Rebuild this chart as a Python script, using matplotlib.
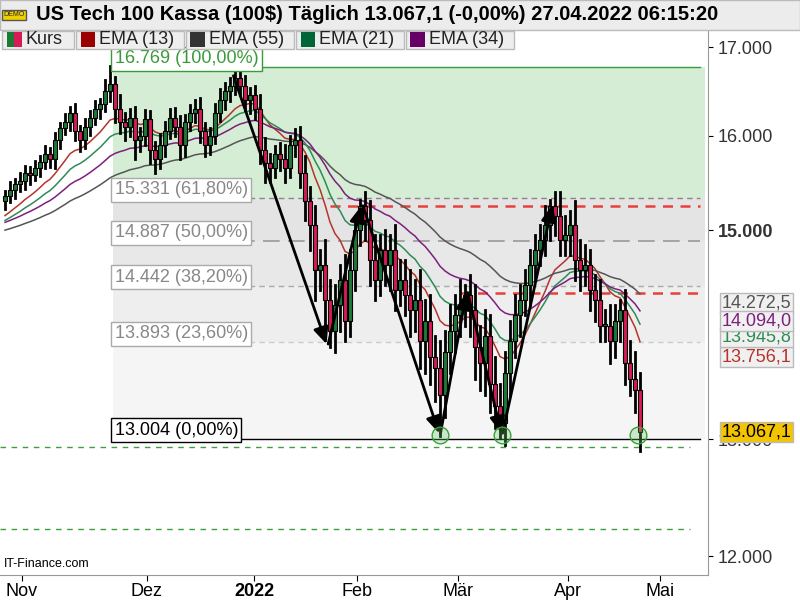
import matplotlib.pyplot as plt
import matplotlib.patches as mpatches
import numpy as np

plt.rcParams['font.family'] = ['Liberation Sans', 'DejaVu Sans']

# daily closes (late Oct 2021 .. 27 Apr 2022)
closes = [15350, 15420, 15480, 15510, 15600, 15580, 15650, 15720, 15800, 15750,
          15950, 16080, 16150, 16250, 16050, 15950, 16100, 16200, 16300, 16350,
          16500, 16580, 16300, 16150, 16100, 16200, 15950, 16000, 16180, 15850,
          15750, 15900, 16050, 16200, 16100, 15900, 16150, 16250, 16300, 16050,
          15900, 16000, 16250, 16400, 16500, 16550, 16650, 16550, 16400, 16450,
          16300, 15850, 15700, 15650, 15800, 15750, 15650, 15900, 15950, 15600,
          15300, 15050, 14600, 14650, 14300, 14000, 14250, 14500, 14100, 14600,
          15000, 15250, 15100, 14700, 14500, 14800, 14650, 14800, 14400, 14500,
          14350, 14200, 14300, 13900, 14100, 13750, 13650, 13400, 13800, 14000,
          14150, 14250, 14350, 14200, 13850, 13700, 13950, 13500, 13300, 13150,
          13600, 13900, 14150, 14300, 14450, 14650, 14800, 14900, 15050, 15250,
          15150, 14900, 14950, 15050, 14700, 14600, 14650, 14400, 14300, 14050,
          14050, 13900, 14100, 14200, 13700, 13550, 13450, 13067]
first_open = 15300
upper_wick = [60, 80, 50, 90, 70, 60, 80, 60, 90, 70,
              80, 60, 90, 70, 100, 60, 80, 70, 90, 60,
              120, 200, 80, 150, 100, 90, 120, 80, 100, 90,
              80, 120, 100, 90, 110, 120, 80, 90, 100, 120,
              90, 80, 100, 120, 90, 100, 60, 90, 120, 80,
              100, 150, 120, 100, 90, 120, 150, 100, 120, 150,
              180, 150, 200, 150, 250, 200, 200, 150, 250, 200,
              150, 60, 150, 200, 250, 150, 200, 150, 250, 200,
              200, 250, 200, 300, 200, 250, 200, 250, 200, 250,
              200, 250, 100, 200, 250, 200, 250, 200, 250, 200,
              200, 200, 200, 150, 150, 150, 150, 150, 200, 60,
              150, 250, 200, 150, 250, 200, 200, 150, 150, 200,
              150, 200, 150, 100, 200, 200, 250, 150]
lower_wick = [80, 60, 90, 70, 80, 100, 60, 80, 70, 90,
              100, 80, 60, 90, 100, 120, 80, 90, 70, 100,
              80, 120, 150, 120, 150, 100, 200, 120, 100, 150,
              150, 100, 120, 80, 100, 150, 120, 90, 100, 120,
              120, 100, 80, 90, 100, 120, 90, 100, 120, 150,
              120, 150, 200, 150, 100, 120, 150, 100, 120, 150,
              200, 250, 300, 200, 250, 150, 200, 250, 200, 150,
              200, 150, 200, 250, 200, 150, 200, 250, 200, 150,
              200, 250, 200, 250, 300, 250, 300, 370, 200, 200,
              200, 200, 200, 250, 300, 250, 300, 250, 200, 140,
              200, 200, 150, 200, 150, 200, 150, 150, 150, 150,
              200, 150, 150, 200, 200, 200, 150, 200, 200, 150,
              150, 200, 150, 200, 200, 150, 200, 170]

ema_periods = [13, 55, 21, 34]
ema_seeds = [15150, 15000, 15100, 15080]
ema_colors = ['#b5342c', '#555555', '#2e8b57', '#7d1f7d']
ema_last = ['13.756,1', '14.272,5', '13.945,8', '14.094,0']

fib_levels = [16769, 15331, 14887, 14442, 13893, 13004]
fib_labels = ['16.769 (100,00%)', '15.331 (61,80%)', '14.887 (50,00%)',
              '14.442 (38,20%)', '13.893 (23,60%)', '13.004 (0,00%)']
fib_fills = ['#d5ecd5', '#e4e4e4', '#e8e8e8', '#eeeeee', '#f5f5f5']

month_pos = [3.4, 28.4, 49.8, 70.4, 90.6, 112.6, 131]
month_lbl = ['Nov', 'Dez', '2022', 'Feb', 'Mär', 'Apr', 'Mai']

# pattern arrows (bar index, price)
arrow_pts = [(45.5, 16700), (64.5, 13850), (71.4, 15280), (87, 13030),
             (92.4, 14400), (99.4, 13030), (109.6, 15290)]
circle_x = [87, 99.4, 126.6]

n = len(closes)
opens = [first_open] + closes[:-1]
x = np.arange(n)

fig = plt.figure(figsize=(8, 6), dpi=100)
ax = fig.add_axes([0.0, 0.042, 0.885, 0.908])
ax.set_yscale('log')
ax.set_xlim(-1, 140.6)
ax.set_ylim(11850, 17200)

# fibonacci zones
x0 = 21.6
for i in range(5):
    ax.fill_between([x0, 140], fib_levels[i + 1], fib_levels[i], color=fib_fills[i], lw=0, zorder=0)
ax.plot([x0, 139], [fib_levels[0]] * 2, color='#3a9a3a', lw=1, zorder=1)
ax.plot([x0, 139], [fib_levels[1]] * 2, color='#888888', lw=1, ls=(0, (4, 3)), zorder=1)
ax.plot([x0, 139], [fib_levels[2]] * 2, color='#999999', lw=1.2, ls=(0, (10, 5)), zorder=1)
ax.plot([x0, 139], [fib_levels[3]] * 2, color='#aaaaaa', lw=1, ls=(0, (4, 3)), zorder=1)
ax.plot([x0, 139], [fib_levels[4]] * 2, color='#cccccc', lw=1, ls=(0, (4, 3)), zorder=1)
ax.plot([x0, 139], [fib_levels[5]] * 2, color='black', lw=1, zorder=1)
for i, (lv, lb) in enumerate(zip(fib_levels, fib_labels)):
    col = 'black' if i == 5 else ('#3a9a3a' if i == 0 else '#888888')
    ax.text(x0 + 0.3, lv, lb, fontsize=13, color=col, va='bottom', ha='left', zorder=6,
            bbox=dict(facecolor='white', edgecolor=col if i in (0, 5) else '#aaaaaa', pad=2.5, lw=1))

# support / resistance
ax.plot([65, 139], [15250, 15250], color='#e8403a', lw=1.8, ls=(0, (4, 3)), zorder=2)
ax.plot([91, 139], [14370, 14370], color='#e8403a', lw=1.8, ls=(0, (4, 3)), zorder=2)
ax.plot([-1, 137], [12930, 12930], color='#3aa03a', lw=1, ls=(0, (4, 4)), zorder=2)
ax.plot([-1, 137], [12230, 12230], color='#3aa03a', lw=1, ls=(0, (4, 4)), zorder=2)

# EMAs
for p, s, c in zip(ema_periods, ema_seeds, ema_colors):
    k = 2 / (p + 1)
    e = [s]
    for v in closes[1:]:
        e.append(e[-1] + k * (v - e[-1]))
    ax.plot(x, e, color=c, lw=1.1, zorder=3)

# candles
for i in range(n):
    o, c = opens[i], closes[i]
    hi = max(o, c) + upper_wick[i]
    lo = min(o, c) - lower_wick[i]
    ax.plot([i, i], [lo, hi], color='black', lw=2, zorder=4)
    col = '#1d7a35' if c >= o else '#d81a55'
    ax.add_patch(mpatches.Rectangle((i - 0.35, min(o, c)), 0.7, max(abs(c - o), 15),
                                    facecolor=col, edgecolor='black', lw=0.8, zorder=5))

# arrows
for (xa, ya), (xb, yb) in zip(arrow_pts[:-1], arrow_pts[1:]):
    ax.annotate('', xy=(xb, yb), xytext=(xa, ya), zorder=7,
                arrowprops=dict(arrowstyle='-|>,head_length=1.0,head_width=0.45', color='black', lw=2))
for cx in circle_x:
    ax.plot(cx, 13040, 'o', ms=12, mfc=(0.4, 0.8, 0.4, 0.3), mec='#3aa03a', zorder=8)

# axes styling
ax.set_xticks(month_pos)
ax.set_xticklabels(month_lbl, fontsize=13)
ax.get_xticklabels()[2].set_fontweight('bold')
ax.tick_params(axis='x', length=4, pad=2)
ax.yaxis.tick_right()
ax.set_yticks([12000, 13000, 15000, 16000, 17000])
ax.set_yticklabels(['12.000', '13.000', '15.000', '16.000', '17.000'], fontsize=13, color='#333333')
ax.get_yticklabels()[2].set_fontweight('bold')
ax.minorticks_off()
for s in ['top', 'left']:
    ax.spines[s].set_visible(False)
ax.spines['right'].set_color('#999999')
ax.spines['bottom'].set_color('#999999')

# right-side value labels
label_y = [13756, 14272, 13946, 14094]
for lb, yv, c in zip(ema_last, label_y, ema_colors):
    ax.annotate(lb, xy=(1.0, yv), xycoords=('axes fraction', 'data'), xytext=(10, 0),
                textcoords='offset points', fontsize=13, color=c, va='center', zorder=9,
                annotation_clip=False,
                bbox=dict(facecolor='#f0f0f0', edgecolor='#bbbbbb', pad=1.0))
ax.annotate('13.067,1', xy=(1.0, 13067), xycoords=('axes fraction', 'data'), xytext=(10, 0),
            textcoords='offset points', fontsize=13, color='black', va='center', zorder=9,
            annotation_clip=False,
            bbox=dict(facecolor='#f5c400', edgecolor='#bbbbbb', pad=1.0))

fig.text(0.005, 0.055, 'IT-Finance.com', fontsize=9)

# header
fig.patches.append(mpatches.Rectangle((0, 0.95), 1, 0.05, transform=fig.transFigure,
                                      facecolor='#ececec', edgecolor='#bbbbbb'))
fig.text(0.045, 0.975, 'US Tech 100 Kassa (100$) Täglich 13.067,1 (-0,00%) 27.04.2022 06:15:20',
         fontsize=14.5, fontweight='bold', va='center')
fig.text(0.004, 0.975, 'DEMO', fontsize=5, color='#222222', va='center',
         bbox=dict(facecolor='#f0d000', edgecolor='#555555', pad=1))

# legend strip
leg_items = ['Kurs', 'EMA (13)', 'EMA (55)', 'EMA (21)', 'EMA (34)']
leg_cols = ['#d81a55', '#9b0000', '#333333', '#00663a', '#660066']
leg_x = [0.003, 0.095, 0.232, 0.370, 0.507]
leg_w = [0.090, 0.135, 0.136, 0.135, 0.135]
for lx, lw_, t, c in zip(leg_x, leg_w, leg_items, leg_cols):
    fig.patches.append(mpatches.Rectangle((lx, 0.918), lw_, 0.031, transform=fig.transFigure,
                                          facecolor='#eeeeee', edgecolor='#bbbbbb', zorder=10))
    sq = mpatches.Rectangle((lx + 0.006, 0.922), 0.018, 0.024, transform=fig.transFigure,
                            facecolor=c, edgecolor='none', zorder=11)
    fig.patches.append(sq)
    fig.text(lx + 0.029, 0.9335, t, fontsize=13, va='center', color='#222222', zorder=12)
fig.patches.append(mpatches.Rectangle((0.009, 0.922), 0.009, 0.024, transform=fig.transFigure,
                                      facecolor='#1d7a35', edgecolor='none', zorder=12))

fig.savefig('out.png', dpi=100)
